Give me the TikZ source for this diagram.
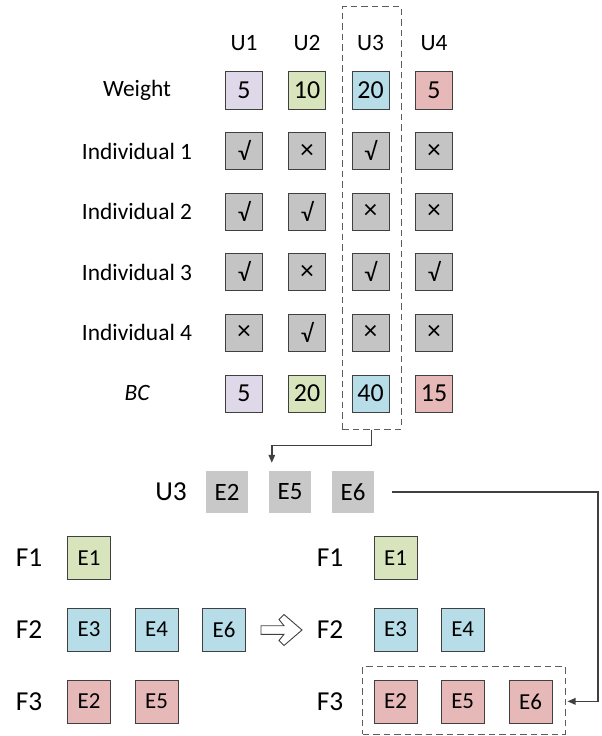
\documentclass[tikz,border=0pt]{standalone}
\usepackage{fontspec}
\setmainfont{Carlito}
\usetikzlibrary{arrows.meta,calc}
\definecolor{cpur}{HTML}{DFD8E8}
\definecolor{cgrn}{HTML}{D8E4BC}
\definecolor{cblu}{HTML}{B7DEE8}
\definecolor{cred}{HTML}{E6B9B8}
\definecolor{cgry}{HTML}{C4C4C4}
\definecolor{cgry2}{HTML}{C8C8C8}
\definecolor{cline}{HTML}{404040}
\tikzset{
  cell/.style={draw=cline, line width=1bp, minimum width=37bp, minimum height=37bp, inner sep=0pt, font=\fontsize{26}{26}\selectfont},
  markcell/.style={cell, fill=cgry, font=\fontsize{25}{25}\selectfont},
  ebox/.style={draw=cline, line width=1bp, minimum width=43bp, minimum height=43bp, inner sep=0pt, font=\fontsize{23}{23}\selectfont},
  gbox/.style={fill=cgry2, minimum width=42bp, minimum height=42bp, inner sep=0pt, font=\fontsize{25}{25}\selectfont},
  lbl/.style={font=\fontsize{23.5}{23.5}\selectfont, inner sep=0pt},
  biglbl/.style={font=\fontsize{27.5}{27.5}\selectfont, inner sep=0pt},
  dbox/.style={draw=cline!85, dashed, dash pattern=on 6.5bp off 4bp, line width=1bp, inner sep=0pt},
  conn/.style={draw=cline, line width=1.6bp, -{Triangle[length=8bp,width=6.5bp]}},
}
\begin{document}
\begin{tikzpicture}[x=1bp,y=-1bp]
\useasboundingbox (0,0) rectangle (602,736);
% headers
\foreach \c/\x in {1/244,2/307,3/370.5,4/434}{
  \node[lbl] (h\c) at (\x,43) {U\c};
}
% row labels
\node[lbl] (rw) at (137,90.5) {Weight};
\node[lbl] (r1) at (137,151) {Individual 1};
\node[lbl] (r2) at (137,211.5) {Individual 2};
\node[lbl] (r3) at (137,272) {Individual 3};
\node[lbl] (r4) at (137,332.5) {Individual 4};
\node[lbl] (rbc) at (137,393) {\itshape BC};
% weight row
\node[cell,fill=cpur] (w1) at (244,90.5) {5};
\node[cell,fill=cgrn] (w2) at (307,90.5) {10};
\node[cell,fill=cblu] (w3) at (370.5,90.5) {20};
\node[cell,fill=cred] (w4) at (434,90.5) {5};
% individuals
\newcommand{\yes}{\raisebox{0.5bp}{√}}
\newcommand{\no}{\fontsize{27}{27}\selectfont ×}
\foreach \r/\y/\a/\b/\c/\d in {1/151/1/0/1/0, 2/211.5/1/1/0/0, 3/272/1/0/1/1, 4/332.5/0/1/0/0}{
  \foreach \col/\x/\v in {1/244/\a, 2/307/\b, 3/370.5/\c, 4/434/\d}{
    \node[markcell] (i\r c\col) at (\x,\y) {\ifnum\v=1 \yes\else\no\fi};
  }
}
% BC row
\node[cell,fill=cpur] (b1) at (244,393.5) {5};
\node[cell,fill=cgrn] (b2) at (307,393.5) {20};
\node[cell,fill=cblu] (b3) at (370.5,393.5) {40};
\node[cell,fill=cred] (b4) at (434,393.5) {15};
% dashed column
\node[dbox, minimum width=59bp, minimum height=422bp] (col) at (371.5,218) {};
% U3 row
\node[biglbl] (u3) at (171,492) {U3};
\node[gbox] (g2) at (227,492) {E2};
\node[gbox] (g5) at (290,492) {E5};
\node[gbox] (g6) at (353,492) {E6};
\draw[conn] (col.south) -- ++(0,16) -| ($(g5.north west)+(3,-8)$);
% bottom left
\node[biglbl] (lf1) at (29,558) {F1};
\node[biglbl] (lf2) at (29,630) {F2};
\node[biglbl] (lf3) at (29,701.5) {F3};
\node[ebox,fill=cgrn] (le1) at (89,558) {E1};
\node[ebox,fill=cblu] (le3) at (89,629.5) {E3};
\node[ebox,fill=cblu] (le4) at (156.5,629.5) {E4};
\node[ebox,fill=cblu] (le6) at (224,629.5) {E6};
\node[ebox,fill=cred] (le2) at (89,701.5) {E2};
\node[ebox,fill=cred] (le5) at (156.5,701.5) {E5};
% hollow arrow
\draw[cline, line width=0.9bp, fill=white, line join=miter] (261,625.7) -- (284,625.7) -- (279,619.5) -- (284,614.5) -- (302,630) -- (284,645.5) -- (279,640.5) -- (284,634.3) -- (261,634.3) -- cycle;
% bottom right
\node[biglbl] (rf1) at (330,558) {F1};
\node[biglbl] (rf2) at (330,630) {F2};
\node[biglbl] (rf3) at (330,701.5) {F3};
\node[ebox,fill=cgrn] (re1) at (395.5,558) {E1};
\node[ebox,fill=cblu] (re3) at (395.5,629.5) {E3};
\node[ebox,fill=cblu] (re4) at (462.7,629.5) {E4};
\node[ebox,fill=cred] (re2) at (395.5,701.5) {E2};
\node[ebox,fill=cred] (re5) at (462.7,701.5) {E5};
\node[ebox,fill=cred] (re6) at (530.5,701.5) {E6};
\node[dbox, minimum width=202.3bp, minimum height=67.3bp] (fbox) at (463.85,700.35) {};
% long connector
\coordinate (cA) at (598,492);
\draw[conn] ($(g6.east)+(18,0)$) -- (cA) |- ($(fbox.east)+(2,1)$);
\end{tikzpicture}
\end{document}
